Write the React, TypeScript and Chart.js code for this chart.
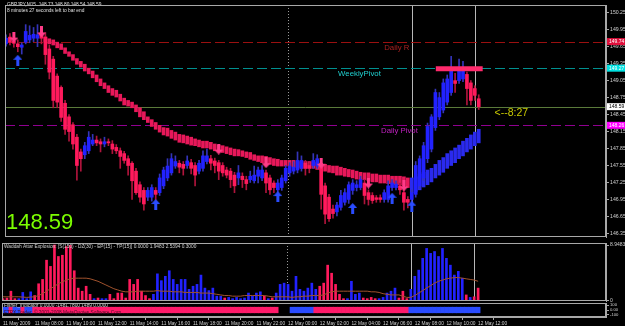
import React, { useEffect, useRef } from 'react';
import { Chart, registerables } from 'chart.js';

Chart.register(...registerables);

// ---------------- data ----------------
const SYMBOL = 'GBPJPY,M15';
const headerOHLC = [148.73, 148.8, 148.54, 148.59];
const timeLeftText = '8 minutes 27 seconds left to bar end';
const countdownText = '<--8:27';
const bidPrice = 148.59;

const xTickLabels = [
  '11 May 2009', '11 May 08:00', '11 May 10:00', '11 May 12:00', '11 May 14:00', '11 May 16:00',
  '11 May 18:00', '11 May 20:00', '11 May 22:00', '12 May 00:00', '12 May 02:00', '12 May 04:00',
  '12 May 06:00', '12 May 08:00', '12 May 10:00', '12 May 12:00',
];
const xTickStep = 8;

const priceTicks = [150.25, 149.95, 149.65, 149.35, 149.05, 148.75, 148.45, 148.15, 147.85, 147.55, 147.25, 146.95, 146.65, 146.35];

const openPx = [
  149.70, 149.82, 149.75, 149.70, 149.64, 149.73, 149.77, 149.80, 149.80, 149.90,
  149.82, 149.61, 149.43, 149.13, 148.93, 148.65, 148.41, 148.27, 148.05, 147.79,
  147.74, 147.81, 147.93, 148.00, 147.97, 147.93, 147.97, 147.93, 147.87, 147.81,
  147.76, 147.67, 147.59, 147.45, 147.21, 147.11, 146.99, 146.99, 147.11, 147.07,
  147.19, 147.33, 147.42, 147.54, 147.59, 147.57, 147.55, 147.60, 147.55, 147.45,
  147.50, 147.62, 147.67, 147.63, 147.60, 147.55, 147.47, 147.45, 147.38, 147.33,
  147.36, 147.30, 147.30, 147.28, 147.36, 147.33, 147.42, 147.33, 147.24, 147.12,
  147.16, 147.28, 147.42, 147.45, 147.47, 147.50, 147.59, 147.55, 147.55, 147.54,
  147.59, 147.19, 146.99, 146.78, 146.73, 146.81, 146.90, 146.95, 147.11, 147.16,
  147.16, 147.24, 147.07, 147.02, 146.98, 146.98, 146.95, 146.95, 147.16, 147.16,
  147.19, 147.07, 146.95, 146.95, 147.04, 147.19, 147.33, 147.67, 147.84, 148.22,
  148.41, 148.53, 148.67, 148.84, 149.05, 149.05, 149.08, 149.16, 149.01, 148.91,
  148.73,
];
const highPx = [
  149.86, 149.88, 149.85, 149.77, 149.72, 150.04, 150.02, 149.99, 150.04, 149.99,
  149.90, 149.68, 149.48, 149.17, 148.96, 148.70, 148.45, 148.31, 148.10, 147.84,
  147.96, 148.15, 148.10, 148.07, 148.02, 148.05, 148.02, 147.99, 147.92, 147.86,
  147.80, 147.72, 147.62, 147.50, 147.26, 147.16, 147.16, 147.21, 147.16, 147.40,
  147.52, 147.67, 147.76, 147.72, 147.64, 147.62, 147.72, 147.66, 147.60, 147.64,
  147.81, 147.84, 147.73, 147.68, 147.64, 147.60, 147.52, 147.50, 147.43, 147.55,
  147.42, 147.36, 147.45, 147.54, 147.52, 147.55, 147.47, 147.38, 147.28, 147.30,
  147.38, 147.55, 147.60, 147.62, 147.79, 147.72, 147.64, 147.60, 147.76, 147.74,
  147.64, 147.24, 147.04, 146.85, 146.90, 147.11, 147.14, 147.26, 147.30, 147.28,
  147.36, 147.30, 147.12, 147.07, 147.02, 147.03, 147.12, 147.28, 147.30, 147.28,
  147.24, 147.12, 147.00, 147.12, 147.62, 147.72, 147.96, 148.30, 148.45, 148.90,
  148.84, 149.08, 149.15, 149.48, 149.18, 149.43, 149.39, 149.20, 149.05, 148.96,
  148.80,
];
const lowPx = [
  149.66, 149.68, 149.64, 149.56, 149.52, 149.70, 149.72, 149.74, 149.65, 149.70,
  149.34, 149.08, 148.57, 148.57, 148.33, 148.10, 147.98, 147.84, 147.29, 147.45,
  147.67, 147.76, 147.90, 147.90, 147.79, 147.88, 147.90, 147.76, 147.76, 147.50,
  147.59, 147.38, 146.95, 147.04, 146.90, 146.76, 146.93, 146.92, 146.90, 147.02,
  147.14, 147.28, 147.38, 147.50, 147.42, 147.38, 147.50, 147.40, 147.19, 147.40,
  147.45, 147.58, 147.47, 147.42, 147.30, 147.36, 147.33, 147.16, 147.07, 147.21,
  147.16, 147.12, 147.25, 147.24, 147.24, 147.28, 147.07, 147.04, 147.07, 147.07,
  147.11, 147.24, 147.36, 147.40, 147.42, 147.45, 147.38, 147.42, 147.50, 147.50,
  146.78, 146.52, 146.56, 146.62, 146.66, 146.76, 146.85, 146.88, 147.04, 147.10,
  147.12, 146.87, 146.85, 146.88, 146.90, 146.90, 146.90, 146.90, 147.11, 147.12,
  147.04, 146.76, 146.80, 146.90, 146.99, 147.14, 147.28, 147.60, 147.79, 148.17,
  148.36, 148.48, 148.62, 148.79, 148.84, 149.00, 149.03, 148.62, 148.62, 148.70,
  148.54,
];
const closePx = [
  149.80, 149.73, 149.71, 149.65, 149.68, 149.92, 149.85, 149.87, 149.86, 149.80,
  149.51, 149.20, 148.70, 148.67, 148.40, 148.19, 148.15, 147.93, 147.55, 147.67,
  147.90, 148.05, 148.00, 147.95, 147.93, 147.97, 147.95, 147.84, 147.81, 147.71,
  147.64, 147.55, 147.28, 147.07, 146.99, 146.87, 147.11, 147.16, 147.04, 147.33,
  147.47, 147.54, 147.67, 147.62, 147.52, 147.50, 147.63, 147.50, 147.38, 147.59,
  147.72, 147.72, 147.59, 147.55, 147.45, 147.42, 147.38, 147.30, 147.19, 147.42,
  147.30, 147.23, 147.36, 147.38, 147.47, 147.47, 147.24, 147.12, 147.16, 147.24,
  147.33, 147.50, 147.54, 147.52, 147.64, 147.64, 147.50, 147.50, 147.64, 147.67,
  147.04, 146.69, 146.61, 146.70, 146.85, 147.02, 147.07, 147.21, 147.24, 147.21,
  147.30, 147.02, 146.95, 146.93, 146.95, 146.95, 147.07, 147.19, 147.24, 147.22,
  147.12, 146.90, 146.90, 147.07, 147.55, 147.67, 147.90, 148.24, 148.41, 148.84,
  148.75, 149.01, 149.08, 149.22, 149.00, 149.22, 149.25, 148.91, 148.70, 148.79,
  148.59,
];

// smoothed trend band (top / bottom of each band bar)
const trendTop = [
  null, null, null, null, null, null, null, null, null, null,
  149.82, 149.79, 149.77, 149.73, 149.70, 149.63, 149.56, 149.51, 149.44, 149.39,
  149.34, 149.27, 149.22, 149.15, 149.08, 149.01, 148.96, 148.91, 148.88, 148.81,
  148.74, 148.70, 148.67, 148.62, 148.57, 148.50, 148.41, 148.36, 148.31, 148.26,
  148.22, 148.21, 148.17, 148.14, 148.10, 148.09, 148.07, 148.05, 148.02, 148.00,
  147.98, 147.98, 147.96, 147.93, 147.91, 147.90, 147.88, 147.86, 147.84, 147.83,
  147.81, 147.79, 147.78, 147.74, 147.72, 147.72, 147.71, 147.69, 147.67, 147.66,
  147.64, 147.64, 147.64, 147.64, 147.62, 147.62, 147.62, 147.62, 147.62, 147.60,
  147.59, 147.57, 147.55, 147.54, 147.54, 147.52, 147.50, 147.48, 147.47, 147.45,
  147.43, 147.42, 147.42, 147.40, 147.40, 147.38, 147.38, 147.38, 147.36, 147.36,
  147.36, 147.35, 147.33, 147.33, 147.35, 147.40, 147.43, 147.47, 147.50, 147.57,
  147.64, 147.69, 147.76, 147.81, 147.86, 147.91, 147.98, 148.03, 148.09, 148.14,
  148.19,
];
const trendBot = [
  null, null, null, null, null, null, null, null, null, null,
  149.73, 149.70, 149.68, 149.63, 149.60, 149.53, 149.48, 149.41, 149.34, 149.29,
  149.22, 149.17, 149.10, 149.03, 148.96, 148.91, 148.84, 148.79, 148.76, 148.69,
  148.62, 148.60, 148.57, 148.50, 148.41, 148.36, 148.31, 148.24, 148.19, 148.14,
  148.09, 148.07, 148.03, 148.00, 147.96, 147.95, 147.93, 147.91, 147.90, 147.88,
  147.86, 147.86, 147.84, 147.81, 147.79, 147.78, 147.76, 147.74, 147.72, 147.72,
  147.71, 147.69, 147.66, 147.64, 147.62, 147.60, 147.59, 147.57, 147.55, 147.54,
  147.54, 147.54, 147.54, 147.52, 147.52, 147.50, 147.50, 147.50, 147.50, 147.48,
  147.47, 147.45, 147.43, 147.42, 147.38, 147.38, 147.36, 147.35, 147.33, 147.31,
  147.30, 147.30, 147.28, 147.26, 147.26, 147.24, 147.24, 147.23, 147.23, 147.21,
  147.21, 147.19, 147.16, 147.07, 147.09, 147.12, 147.17, 147.21, 147.26, 147.33,
  147.38, 147.43, 147.50, 147.55, 147.60, 147.67, 147.72, 147.79, 147.84, 147.90,
  147.95,
];
const trendFlipIndex = 103;

const upArrowIdx = [3, 38, 69, 88, 98, 103];
const upArrowPx = [149.41, 146.86, 147.0, 146.79, 146.97, 146.83];
const downArrowIdx = [2, 9, 54, 66, 80, 92, 101];
const downArrowPx = [149.82, 149.91, 147.84, 147.6, 147.59, 147.24, 147.19];

const zoneFromIdx = 109.1;
const zoneToIdx = 121;
const zonePrice = 149.26;

const levelNames = ['Daily R', 'WeeklyPivot', 'Daily Pivot'];
const levelPrices = [149.74, 149.27, 148.26];
const levelLabelIdx = [96, 84.3, 95.2];

const daySeparatorIdx = [71.7];
const vLineIdx = [103, 119];

// Waddah Attar Explosion: signed histogram (+ = up / blue, - = down / red), and explosion line
const waeTitle = 'Waddah Attar Explosion: [S(150) - DZ(30) - EP(15) - TP(15)] 0.0000 1.9483 2.5394 0.3000';
const waeMax = 8.9483;
const waeHist = [
  -0.3, -0.4, -1.5, -0.3, 0.3, 1.3, 0.3, 1.4, -0.8, -2.7,
  -3.4, -6.5, -5.5, -8.95, -7.1, -7.3, -8.7, -8.9, -4.8, -2.0,
  -1.5, -2.3, -1.0, 0.3, -0.4, 0.3, 0.3, -1.0, -0.3, -1.2,
  -1.2, -0.4, -3.4, -2.6, -3.4, -1.5, -0.8, -0.3, 1.0, 4.3,
  3.2, 3.9, 4.8, 3.4, 2.6, 3.4, 3.4, 1.8, 2.3, 2.6,
  4.1, 2.0, 1.6, 2.0, 0.7, 0.7, -0.4, 0.5, 0.3, 0.5,
  0.3, 0.4, 1.2, 0.7, 1.2, 1.4, -0.7, 0.3, -0.4, 1.2,
  2.6, 2.8, 2.6, 1.5, 3.9, 1.8, 1.5, 2.0, 2.8, 1.8,
  -2.3, -2.8, -5.7, -4.4, -2.6, -1.0, -0.3, 0.3, 3.1, 1.0,
  1.2, -0.4, -0.3, -0.5, -0.3, 0.3, 0.5, 1.2, 1.5, 2.0,
  -0.4, -1.5, -0.3, 1.8, 3.9, 4.9, 6.8, 8.4, 7.6, 7.9,
  7.1, 8.4, 6.8, 5.7, 4.1, 4.7, 3.6, -0.9, 0.5, -0.6,
  -2.0,
];
const waeLine = [
  0.6, 0.6, 0.6, 0.6, 0.6, 0.55, 0.5, 0.55, 0.6, 0.8,
  1.1, 1.5, 1.9, 2.3, 2.7, 3.0, 3.3, 3.5, 3.6, 3.6,
  3.6, 3.6, 3.5, 3.3, 3.1, 2.8, 2.5, 2.2, 1.9, 1.7,
  1.5, 1.4, 1.4, 1.4, 1.5, 1.5, 1.5, 1.5, 1.5, 1.6,
  1.5, 1.5, 1.5, 1.4, 1.4, 1.4, 1.3, 1.3, 1.3, 1.3,
  1.2, 1.2, 1.2, 1.1, 1.0, 0.9, 0.8, 0.8, 0.7, 0.7,
  0.7, 0.8, 0.8, 0.8, 0.8, 0.8, 0.8, 0.7, 0.6, 0.6,
  0.6, 0.6, 0.6, 0.5, 0.6, 0.6, 0.7, 0.7, 0.8, 0.8,
  0.8, 0.9, 1.2, 1.4, 1.5, 1.5, 1.5, 1.5, 1.5, 1.5,
  1.5, 1.5, 1.5, 1.4, 1.4, 1.3, 1.1, 1.0, 0.9, 0.9,
  0.9, 0.7, 0.5, 0.5, 0.8, 1.2, 1.6, 2.0, 2.4, 2.8,
  3.1, 3.3, 3.5, 3.6, 3.7, 3.7, 3.6, 3.5, 3.4, 3.3,
  3.1,
];

// Fisher indicator state per bar (+1 up, -1 down, 0 none)
const fisherTitle = 'Fisher_Indicator 0.0000 -1481.7800 1489 0.0000';
const copyrightText = 'FTPX Trader, \u00A9 2001-2008 MetaQuotes Software Corp.';
const fisherState = [
  1, 1, -1, 1, 1, -1, 1, 1, -1, -1,
  -1, -1, -1, -1, -1, -1, -1, -1, -1, -1,
  -1, -1, -1, -1, -1, -1, -1, -1, -1, -1,
  -1, -1, -1, -1, -1, -1, -1, -1, -1, -1,
  -1, -1, -1, -1, -1, -1, -1, -1, -1, -1,
  -1, -1, -1, -1, -1, -1, -1, -1, -1, -1,
  -1, -1, -1, -1, -1, -1, -1, -1, -1, -1,
  0, 0, 0, 1, 1, 1, 1, 1, 1, -1,
  -1, -1, -1, -1, -1, -1, -1, -1, -1, -1,
  -1, -1, -1, -1, -1, -1, -1, -1, -1, -1,
  -1, -1, -1, 1, 1, 1, 1, 1, 1, 1,
  1, 1, 1, 1, 1, 1, 1, 1, 1, 1,
  1,
];
const fisherTicks = [100, 0, -100];

// ---------------- styles / layout ----------------
const FONT = 'Liberation Sans';
const FRAME = '#a8a8a8';
const TXT = '#d0d0d0';
const RED = '#ff1a5c';
const BLUE = '#2222ff';
const RED_WICK = '#b0143c';
const BLUE_WICK = '#3434b8';
const X_MIN = -0.25;
const X_MAX = 152.3;
const LEVEL_LINE = ['#9a1010', '#009090', '#900090'];
const LEVEL_TEXT = ['#a82020', '#20d0d0', '#c020c0'];
const BOXES = [
  { v: 149.74, bg: '#e0103c', fg: '#ffffff' },
  { v: 149.27, bg: '#00e0e0', fg: '#ffffff' },
  { v: 148.59, bg: '#ffffff', fg: '#000000' },
  { v: 148.26, bg: '#ff00ff', fg: '#ffffff' },
];

const idx = openPx.map((_, i) => i);

function makeArrow(color: string, up: boolean) {
  const c = document.createElement('canvas');
  c.width = 9;
  c.height = 11;
  const g = c.getContext('2d')!;
  g.fillStyle = color;
  g.beginPath();
  if (up) {
    g.moveTo(4.5, 0); g.lineTo(9, 5); g.lineTo(0, 5);
    g.closePath(); g.fill();
    g.fillRect(3, 5, 3, 6);
  } else {
    g.moveTo(4.5, 11); g.lineTo(9, 6); g.lineTo(0, 6);
    g.closePath(); g.fill();
    g.fillRect(3, 0, 3, 6);
  }
  return c;
}

const framePlugin = {
  id: 'frame',
  afterDraw(chart: any) {
    const { ctx, chartArea: a } = chart;
    ctx.save();
    ctx.strokeStyle = FRAME;
    ctx.lineWidth = 1;
    ctx.strokeRect(Math.round(a.left) + 0.5, Math.round(a.top) + 0.5, Math.round(a.right - a.left) - 1, Math.round(a.bottom - a.top) - 1);
    ctx.restore();
  },
};

const vLinesPlugin = {
  id: 'vlines',
  beforeDatasetsDraw(chart: any) {
    const { ctx, chartArea: a, scales } = chart;
    const xs = scales.x;
    ctx.save();
    ctx.lineWidth = 1;
    ctx.strokeStyle = '#9a9a9a';
    ctx.setLineDash([1, 2]);
    daySeparatorIdx.forEach((v) => {
      const x = Math.round(xs.getPixelForValue(v)) + 0.5;
      ctx.beginPath(); ctx.moveTo(x, a.top); ctx.lineTo(x, a.bottom); ctx.stroke();
    });
    ctx.setLineDash([]);
    ctx.strokeStyle = '#b8b8b8';
    vLineIdx.forEach((v) => {
      const x = Math.round(xs.getPixelForValue(v)) + 0.5;
      ctx.beginPath(); ctx.moveTo(x, a.top); ctx.lineTo(x, a.bottom); ctx.stroke();
    });
    ctx.restore();
  },
};

const mainDecor = {
  id: 'mainDecor',
  beforeDatasetsDraw(chart: any) {
    const { ctx, chartArea: a, scales } = chart;
    const ys = scales.y;
    ctx.save();
    ctx.lineWidth = 1;
    levelPrices.forEach((p, k) => {
      const y = Math.round(ys.getPixelForValue(p)) + 0.5;
      ctx.strokeStyle = LEVEL_LINE[k];
      ctx.setLineDash([10, 4]);
      ctx.beginPath(); ctx.moveTo(a.left, y); ctx.lineTo(a.right, y); ctx.stroke();
    });
    ctx.setLineDash([]);
    const by = Math.round(ys.getPixelForValue(bidPrice)) + 0.5;
    ctx.strokeStyle = '#5a7a3a';
    ctx.beginPath(); ctx.moveTo(a.left, by); ctx.lineTo(a.right, by); ctx.stroke();
    ctx.restore();
  },
  afterDatasetsDraw(chart: any) {
    const { ctx, chartArea: a, scales } = chart;
    const ys = scales.y;
    const xs = scales.x;
    ctx.save();
    ctx.textBaseline = 'middle';
    ctx.textAlign = 'left';
    ctx.fillStyle = '#e0e0e0';
    ctx.font = `4.8px "${FONT}"`;
    ctx.fillText(`${SYMBOL}  ${headerOHLC.map((v) => v.toFixed(2)).join(' ')}`, a.left + 2, 5);
    ctx.fillText(timeLeftText, a.left + 2, 11);
    ctx.font = `7.8px "${FONT}"`;
    levelNames.forEach((n, k) => {
      ctx.fillStyle = LEVEL_TEXT[k];
      ctx.fillText(n, xs.getPixelForValue(levelLabelIdx[k]), ys.getPixelForValue(levelPrices[k]) + 6);
    });
    ctx.font = `10.5px "${FONT}"`;
    ctx.fillStyle = '#c8c800';
    ctx.fillText(countdownText, xs.getPixelForValue(124), ys.getPixelForValue(bidPrice) + 6);
    ctx.textBaseline = 'alphabetic';
    ctx.font = `22px "${FONT}"`;
    ctx.fillStyle = '#7cfc00';
    ctx.fillText(bidPrice.toFixed(2), a.left + 1, a.bottom - 8);
    ctx.restore();
  },
  afterDraw(chart: any) {
    const { ctx, chartArea: a, scales } = chart;
    const ys = scales.y;
    ctx.save();
    ctx.font = `5px "${FONT}"`;
    ctx.textBaseline = 'middle';
    ctx.textAlign = 'left';
    BOXES.forEach((b) => {
      const y = ys.getPixelForValue(b.v);
      ctx.fillStyle = b.bg;
      ctx.fillRect(a.right + 1, y - 3.5, 19, 7);
      ctx.fillStyle = b.fg;
      ctx.fillText(b.v.toFixed(2), a.right + 3, y + 0.3);
    });
    ctx.restore();
  },
};

const waeDecor = {
  id: 'waeDecor',
  afterDatasetsDraw(chart: any) {
    const { ctx, chartArea: a } = chart;
    ctx.save();
    ctx.font = `4.8px "${FONT}"`;
    ctx.fillStyle = TXT;
    ctx.textBaseline = 'middle';
    ctx.fillText(waeTitle, a.left + 2, a.top + 4);
    ctx.restore();
  },
};

const fisherDecor = {
  id: 'fisherDecor',
  afterDatasetsDraw(chart: any) {
    const { ctx, chartArea: a } = chart;
    ctx.save();
    ctx.font = `4.8px "${FONT}"`;
    ctx.textBaseline = 'middle';
    ctx.fillStyle = TXT;
    ctx.fillText(fisherTitle, a.left + 2, a.top + 3);
    ctx.fillStyle = '#4a0a22';
    ctx.fillText(copyrightText, a.left + 2, a.top + 10);
    ctx.restore();
  },
};

function rightAxis(min: number, max: number, ticks: number[], fmt: (v: number) => string, size: number) {
  return {
    position: 'right',
    min,
    max,
    afterBuildTicks: (s: any) => { s.ticks = ticks.map((v) => ({ value: v })); },
    afterFit: (s: any) => { s.width = 19; s.paddingTop = 0; s.paddingBottom = 0; },
    ticks: { color: TXT, autoSkip: false, padding: 1, font: { size, family: FONT }, callback: (v: any) => fmt(Number(v)) },
    grid: { drawOnChartArea: false, drawTicks: true, tickLength: 3, color: FRAME },
    border: { color: FRAME },
  };
}

const hiddenX = { type: 'linear', display: false, min: X_MIN, max: X_MAX, offset: false };

export default function App() {
  const aRef = useRef<HTMLCanvasElement>(null);
  const bRef = useRef<HTMLCanvasElement>(null);
  const cRef = useRef<HTMLCanvasElement>(null);

  useEffect(() => {
    document.body.style.margin = '0';
    document.body.style.background = '#000';
    const upImg = makeArrow('#2a4cff', true);
    const downImg = makeArrow('#ff3c88', false);
    const bull = (i: number) => closePx[i] >= openPx[i];
    const trendIdx = idx.filter((i) => trendTop[i] != null);

    const common = {
      responsive: false,
      animation: false,
      devicePixelRatio: 1,
      events: [],
      plugins: { legend: { display: false }, tooltip: { enabled: false } },
    };

    const chartA = new Chart(aRef.current!, {
      type: 'bar',
      data: {
        datasets: [
          { type: 'scatter', data: upArrowIdx.map((x, k) => ({ x, y: upArrowPx[k] })), pointStyle: upImg, order: 0 },
          { type: 'scatter', data: downArrowIdx.map((x, k) => ({ x, y: downArrowPx[k] })), pointStyle: downImg, order: 0 },
          {
            type: 'line',
            data: [{ x: zoneFromIdx, y: zonePrice }, { x: zoneToIdx, y: zonePrice }],
            borderColor: '#ff2a6c', borderWidth: 5, pointRadius: 0, borderCapStyle: 'butt', order: 1,
          },
          {
            type: 'bar',
            data: idx.map((i) => ({ x: i, y: [Math.min(openPx[i], closePx[i]), Math.max(openPx[i], closePx[i])] })),
            backgroundColor: idx.map((i) => (bull(i) ? BLUE : RED)),
            barThickness: 3, grouped: false, minBarLength: 1, order: 2,
          },
          {
            type: 'bar',
            data: idx.map((i) => ({ x: i, y: [lowPx[i], highPx[i]] })),
            backgroundColor: idx.map((i) => (bull(i) ? BLUE_WICK : RED_WICK)),
            barThickness: 1, grouped: false, order: 3,
          },
          {
            type: 'bar',
            data: trendIdx.map((i) => ({ x: i, y: [trendBot[i] as number, trendTop[i] as number] })),
            backgroundColor: trendIdx.map((i) => (i >= trendFlipIndex ? '#2a2aee' : '#e8185a')),
            barThickness: 3, grouped: false, order: 4,
          },
        ],
      } as any,
      options: {
        ...common,
        layout: { padding: { left: 2, top: 2, right: 0, bottom: 1 } },
        scales: {
          x: hiddenX,
          y: rightAxis(146.286, 150.387, priceTicks, (v) => v.toFixed(2), 5.2),
        },
      } as any,
      plugins: [vLinesPlugin, mainDecor, framePlugin],
    });

    const chartB = new Chart(bRef.current!, {
      type: 'bar',
      data: {
        datasets: [
          {
            type: 'line', data: idx.map((i) => ({ x: i, y: waeLine[i] })),
            borderColor: '#a0522d', borderWidth: 1, pointRadius: 0, tension: 0, order: 0,
          },
          {
            type: 'bar', data: idx.map((i) => ({ x: i, y: Math.abs(waeHist[i]) })),
            backgroundColor: idx.map((i) => (waeHist[i] >= 0 ? BLUE : RED)),
            barThickness: 2, grouped: false, order: 1,
          },
        ],
      } as any,
      options: {
        ...common,
        layout: { padding: { left: 2, top: 1, right: 0, bottom: 1 } },
        scales: {
          x: hiddenX,
          y: rightAxis(-0.08, 9.274, [waeMax, 0], (v) => (v === 0 ? '0' : v.toFixed(4)), 5),
        },
      } as any,
      plugins: [vLinesPlugin, waeDecor, framePlugin],
    });

    const fIdx = idx.filter((i) => fisherState[i] !== 0);
    const chartC = new Chart(cRef.current!, {
      type: 'bar',
      data: {
        datasets: [
          {
            type: 'bar', data: fIdx.map((i) => ({ x: i, y: [-60, 60] })),
            backgroundColor: fIdx.map((i) => (fisherState[i] > 0 ? '#2a4cff' : '#ff1a6a')),
            barThickness: 4, grouped: false,
          },
        ],
      } as any,
      options: {
        ...common,
        layout: { padding: { left: 2, top: 1, right: 0, bottom: 0 } },
        scales: {
          x: {
            type: 'linear', position: 'bottom', min: X_MIN, max: X_MAX, offset: false,
            afterBuildTicks: (s: any) => { s.ticks = xTickLabels.map((_, k) => ({ value: k * xTickStep })); },
            afterFit: (s: any) => { s.height = 9; s.paddingLeft = 0; s.paddingRight = 0; },
            ticks: {
              color: TXT, autoSkip: false, maxRotation: 0, align: 'start', padding: 1,
              font: { size: 4.8, family: FONT, lineHeight: 1 },
              callback: (_v: any, k: number) => xTickLabels[k],
            },
            grid: { drawOnChartArea: false, drawTicks: true, tickLength: 3, color: FRAME },
            border: { color: FRAME },
          },
          y: rightAxis(-150, 150, fisherTicks, (v) => (v === 0 ? '0.00' : String(v)), 4.2),
        },
      } as any,
      plugins: [fisherDecor, framePlugin],
    });

    return () => { chartA.destroy(); chartB.destroy(); chartC.destroy(); };
  }, []);

  const cs = (top: number, h: number) => ({ position: 'absolute' as const, left: 0, top, width: 625, height: h });
  return (
    <div style={{ position: 'relative', width: 625, height: 326, background: '#000', overflow: 'hidden' }}>
      <canvas ref={aRef} width={625} height={242} style={cs(0, 242)} />
      <canvas ref={bRef} width={625} height={60} style={cs(242, 60)} />
      <canvas ref={cRef} width={625} height={24} style={cs(302, 24)} />
    </div>
  );
}
